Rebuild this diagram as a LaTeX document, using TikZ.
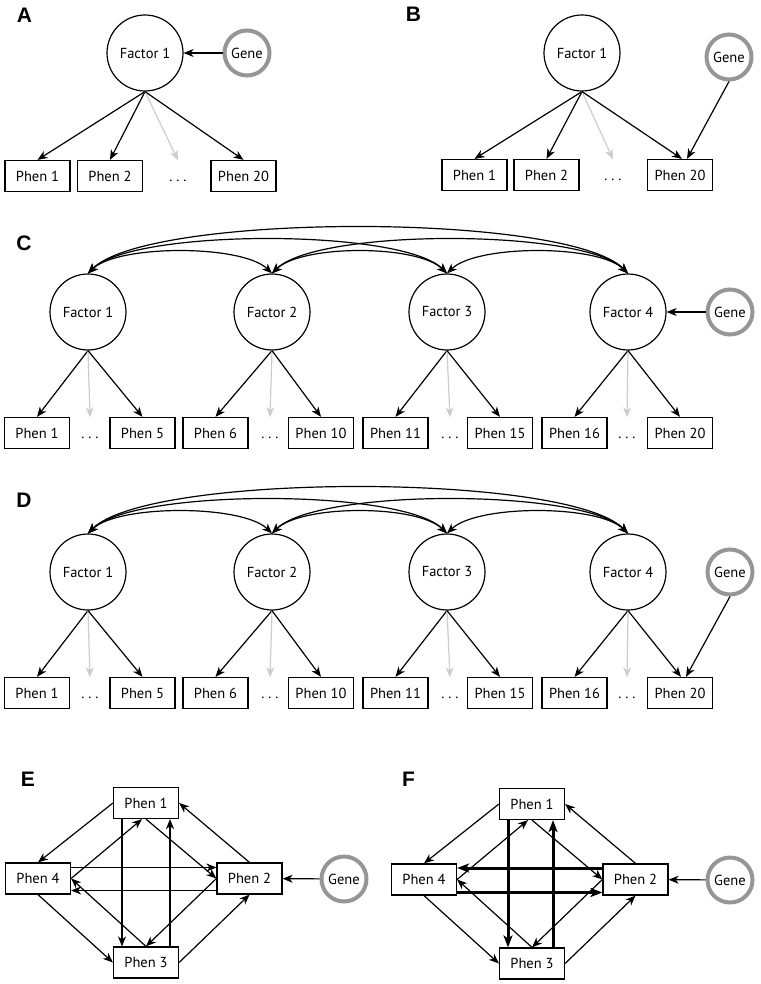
\documentclass[tikz,border=0pt]{standalone}
\usepackage{fontspec}
\setmainfont{PT Sans}
\newfontfamily\panelfont{Liberation Sans}
\usetikzlibrary{arrows.meta}

\definecolor{genegray}{RGB}{150,150,150}
\definecolor{dotgray}{RGB}{205,205,205}

\begin{document}
\begin{tikzpicture}[x=1pt,y=-1pt,
  font=\fontsize{14.5}{16}\selectfont,
  >={Stealth[length=10pt,width=8pt,inset=3pt]},
  phen/.style={draw, rectangle, line width=1.2pt, minimum width=65pt, minimum height=31pt, inner sep=0pt, text height=10.5pt, text depth=0pt},
  dotsnode/.style={rectangle, minimum height=31pt, inner sep=0pt, text height=10.5pt, text depth=0pt},
  factor/.style={draw, circle, line width=1.2pt, minimum size=76pt, inner sep=0pt},
  gene/.style={draw=genegray, circle, line width=4pt, minimum size=45pt, inner sep=0pt},
  arr/.style={->, line width=1.2pt},
  faint/.style={->, line width=1.2pt, color=dotgray},
  cov/.style={<->, line width=1.2pt},
  heavy/.style={-{Stealth[length=12pt,width=9pt,inset=3pt]}, line width=3pt},
  panel/.style={font=\panelfont\bfseries\fontsize{21}{24}\selectfont}]
\useasboundingbox (0,0) rectangle (760,984);

% (A) gene acts on the factor
\begin{scope}
\node[panel] (la) at (24.5,15) {A};
\node[factor] (f) at (145,53) {Factor 1};
\node[gene] (g) at (247,53) {Gene};
\node[phen] (p1) at (37.5,176) {Phen 1};
\node[phen] (p2) at (110,176) {Phen 2};
\node[dotsnode] (d) at (178,176) {.\ .\ .};
\node[phen] (p20) at (243.5,176) {Phen 20};
\path (g) edge[arr] (f);
\path (f.south) edge[arr] (p1.north);
\path (f.south) edge[arr] (p2.north);
\path (f.south) edge[faint] (d.north);
\path (f.south) edge[arr] (p20.north);
\end{scope}

% (B) gene acts on one phenotype
\begin{scope}
\node[panel] (lb) at (413.5,14.5) {B};
\node[factor] (f) at (582,53) {Factor 1};
\node[gene] (g) at (729,57) {Gene};
\node[phen] (p1) at (474.5,175) {Phen 1};
\node[phen] (p2) at (546.5,175) {Phen 2};
\node[dotsnode] (d) at (613,175) {.\ .\ .};
\node[phen] (p20) at (680,175) {Phen 20};
\path (f.south) edge[arr] (p1.north);
\path (f.south) edge[arr] (p2.north);
\path (f.south) edge[faint] (d.north);
\path (f.south) edge[arr] ([xshift=2pt]p20.north);
\path (g.south) edge[arr] ([xshift=7pt]p20.north);
\end{scope}

% (C) four correlated factors, gene on factor 4
\begin{scope}
\node[panel] (lc) at (24,243.5) {C};
\node[factor] (f1) at (88,312) {Factor 1};
\node[factor] (f2) at (272,312) {Factor 2};
\node[factor] (f3) at (447,312) {Factor 3};
\node[factor] (f4) at (628,312) {Factor 4};
\node[gene] (g) at (730,312) {Gene};
\node[phen] (p1) at (37,433) {Phen 1};
\node[dotsnode] (d1) at (90,433) {.\ .\ .};
\node[phen] (p5) at (142.5,433) {Phen 5};
\node[phen] (p6) at (215.5,433) {Phen 6};
\node[dotsnode] (d2) at (270,433) {.\ .\ .};
\node[phen] (p10) at (321,433) {Phen 10};
\node[phen] (p11) at (395.5,433) {Phen 11};
\node[dotsnode] (d3) at (450,433) {.\ .\ .};
\node[phen] (p15) at (500,433) {Phen 15};
\node[phen] (p16) at (574.5,433) {Phen 16};
\node[dotsnode] (d4) at (627,433) {.\ .\ .};
\node[phen] (p20) at (680,433) {Phen 20};
\draw[cov] (f1.north) .. controls +(30,-29) and +(-30,-29) .. (f2.north);
\draw[cov] (f2.north) .. controls +(30,-29) and +(-30,-29) .. (f3.north);
\draw[cov] (f3.north) .. controls +(30,-29) and +(-30,-29) .. (f4.north);
\draw[cov] (f1.north) .. controls +(45,-45) and +(-45,-45) .. (f3.north);
\draw[cov] (f2.north) .. controls +(45,-45) and +(-45,-45) .. (f4.north);
\draw[cov] (f1.north) .. controls +(60,-61) and +(-60,-61) .. (f4.north);
\path (f1.south) edge[arr] (p1.north);
\path (f1.south) edge[faint] (d1.north);
\path (f1.south) edge[arr] (p5.north);
\path (f2.south) edge[arr] (p6.north);
\path (f2.south) edge[faint] (d2.north);
\path (f2.south) edge[arr] (p10.north);
\path (f3.south) edge[arr] (p11.north);
\path (f3.south) edge[faint] (d3.north);
\path (f3.south) edge[arr] (p15.north);
\path (f4.south) edge[arr] (p16.north);
\path (f4.south) edge[faint] (d4.north);
\path (f4.south) edge[arr] (p20.north);
\path (g) edge[arr] (f4);
\end{scope}

% (D) four correlated factors, gene on phen 20
\begin{scope}
\node[panel] (ld) at (24,500) {D};
\node[factor] (f1) at (88,572) {Factor 1};
\node[factor] (f2) at (272,572) {Factor 2};
\node[factor] (f3) at (447,572) {Factor 3};
\node[factor] (f4) at (628,572) {Factor 4};
\node[gene] (g) at (730,572) {Gene};
\node[phen] (p1) at (37,693) {Phen 1};
\node[dotsnode] (d1) at (90,693) {.\ .\ .};
\node[phen] (p5) at (142.5,693) {Phen 5};
\node[phen] (p6) at (215.5,693) {Phen 6};
\node[dotsnode] (d2) at (270,693) {.\ .\ .};
\node[phen] (p10) at (321,693) {Phen 10};
\node[phen] (p11) at (395.5,693) {Phen 11};
\node[dotsnode] (d3) at (450,693) {.\ .\ .};
\node[phen] (p15) at (500,693) {Phen 15};
\node[phen] (p16) at (574.5,693) {Phen 16};
\node[dotsnode] (d4) at (627,693) {.\ .\ .};
\node[phen] (p20) at (680,693) {Phen 20};
\draw[cov] (f1.north) .. controls +(30,-29) and +(-30,-29) .. (f2.north);
\draw[cov] (f2.north) .. controls +(30,-29) and +(-30,-29) .. (f3.north);
\draw[cov] (f3.north) .. controls +(30,-29) and +(-30,-29) .. (f4.north);
\draw[cov] (f1.north) .. controls +(45,-45) and +(-45,-45) .. (f3.north);
\draw[cov] (f2.north) .. controls +(45,-45) and +(-45,-45) .. (f4.north);
\draw[cov] (f1.north) .. controls +(60,-61) and +(-60,-61) .. (f4.north);
\path (f1.south) edge[arr] (p1.north);
\path (f1.south) edge[faint] (d1.north);
\path (f1.south) edge[arr] (p5.north);
\path (f2.south) edge[arr] (p6.north);
\path (f2.south) edge[faint] (d2.north);
\path (f2.south) edge[arr] (p10.north);
\path (f3.south) edge[arr] (p11.north);
\path (f3.south) edge[faint] (d3.north);
\path (f3.south) edge[arr] (p15.north);
\path (f4.south) edge[arr] (p16.north);
\path (f4.south) edge[faint] (d4.north);
\path (f4.south) edge[arr] ([xshift=1pt]p20.north);
\path (g.south) edge[arr] ([xshift=6pt]p20.north);
\end{scope}

% (E) phenotype network
\begin{scope}
\node[panel] (le) at (28,779.5) {E};
\node[phen] (p1) at (146,803) {Phen 1};
\node[phen] (p2) at (249.5,878.5) {Phen 2};
\node[phen] (p3) at (146,962.5) {Phen 3};
\node[phen] (p4) at (38,878.5) {Phen 4};
\node[gene] (g) at (344,879) {Gene};
\path (p1.west) edge[arr] (p4.north);
\path (p2.north) edge[arr] (p1.east);
\path (p4.south) edge[arr] (p3.west);
\path (p3.east) edge[arr] (p2.south);
\path (p4.east) edge[arr] ([xshift=-4pt]p1.south);
\path (p1.south) edge[arr] (p2.west);
\path (p2.west) edge[arr] (p3.north);
\path (p3.north) edge[arr] (p4.east);
\path ([xshift=-24pt]p1.south) edge[arr] ([xshift=-24pt]p3.north);
\path ([xshift=24pt]p3.north) edge[arr] ([xshift=24pt]p1.south);
\path ([yshift=11pt]p4.east) edge[arr] ([yshift=11pt]p2.west);
\path ([yshift=-12pt]p2.west) edge[arr] ([yshift=-12pt]p4.east);
\path (g) edge[arr] (p2);
\end{scope}

% (F) phenotype network, strong paths
\begin{scope}[shift={(386,1)}]
\node[panel] (lf) at (22.5,778.5) {F};
\node[phen] (p1) at (146,803) {Phen 1};
\node[phen] (p2) at (249.5,878.5) {Phen 2};
\node[phen] (p3) at (146,962.5) {Phen 3};
\node[phen] (p4) at (38,878.5) {Phen 4};
\node[gene] (g) at (344,879) {Gene};
\path (p1.west) edge[arr] (p4.north);
\path (p2.north) edge[arr] (p1.east);
\path (p4.south) edge[arr] (p3.west);
\path (p3.east) edge[arr] (p2.south);
\path (p4.east) edge[arr] ([xshift=-4pt]p1.south);
\path (p1.south) edge[arr] (p2.west);
\path (p2.west) edge[arr] (p3.north);
\path (p3.north) edge[arr] (p4.east);
\path ([xshift=-24pt]p1.south) edge[heavy] ([xshift=-24pt]p3.north);
\path ([xshift=21pt]p3.north) edge[heavy] ([xshift=21pt]p1.south);
\path ([yshift=11.5pt]p2.west) edge[heavy] ([yshift=11.5pt]p4.east);
\path ([yshift=-13pt]p4.east) edge[heavy] ([yshift=-13pt]p2.west);
\path (g) edge[arr] (p2);
\end{scope}
\end{tikzpicture}
\end{document}
